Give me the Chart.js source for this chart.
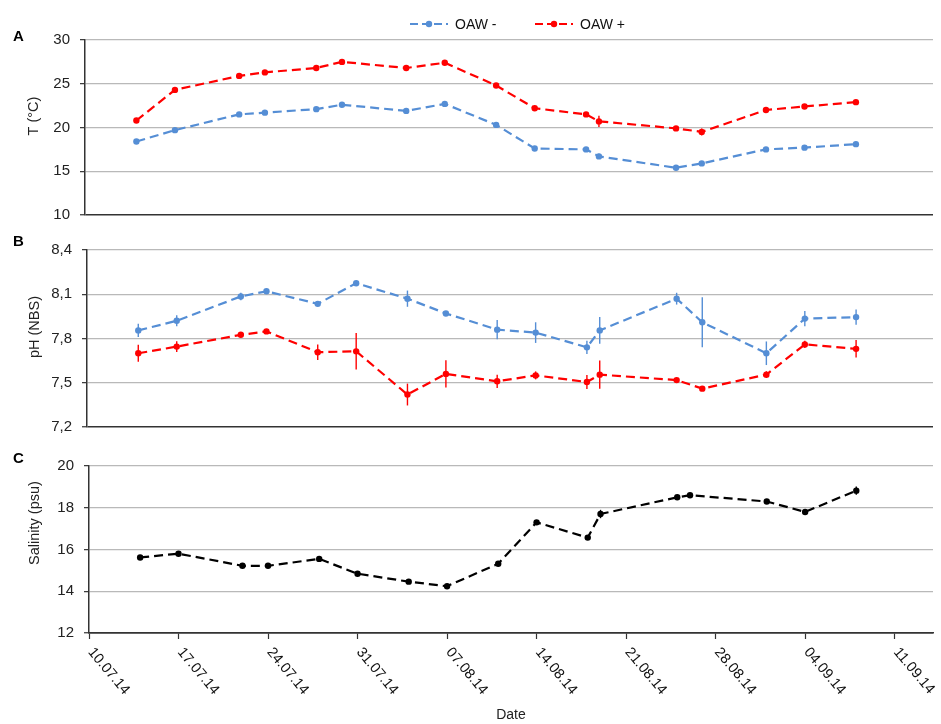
<!DOCTYPE html>
<html><head><meta charset="utf-8">
<script src="https://cdn.jsdelivr.net/npm/chart.js@4.4.1/dist/chart.umd.min.js"></script>
<style>
html,body{margin:0;padding:0;background:#fff;}
#wrap{position:relative;width:941px;height:724px;overflow:hidden;}
canvas{position:absolute;left:0;}
</style></head><body>
<div id="wrap">
<canvas id="cA" width="941" height="234" style="top:0px"></canvas>
<canvas id="cB" width="941" height="221" style="top:225px"></canvas>
<canvas id="cC" width="941" height="284" style="top:440px"></canvas>
</div>
<script>
// ---------- data ----------
const seriesNames = ['OAW -', 'OAW +'];
const xTickLabels = ['10.07.14','17.07.14','24.07.14','31.07.14','07.08.14','14.08.14','21.08.14','28.08.14','04.09.14','11.09.14'];

const tempDates = ['14.07.14','17.07.14','22.07.14','24.07.14','28.07.14','30.07.14','04.08.14','07.08.14','11.08.14','14.08.14','18.08.14','19.08.14','25.08.14','27.08.14','01.09.14','04.09.14','08.09.14'];
const tempMinus = [18.4, 19.7, 21.5, 21.7, 22.1, 22.6, 21.9, 22.7, 20.3, 17.6, 17.5, 16.7, 15.4, 15.9, 17.5, 17.7, 18.1];
const tempPlus  = [20.8, 24.3, 25.9, 26.3, 26.8, 27.5, 26.8, 27.4, 24.8, 22.2, 21.5, 20.7, 19.9, 19.5, 22.0, 22.4, 22.9];
const tempErrMinus = [0.15,0.15,0.15,0.15,0.15,0.2,0.15,0.15,0.2,0.15,0.15,0.3,0.15,0.2,0.15,0.15,0.15];
const tempErrPlus  = [0.2,0.2,0.15,0.15,0.15,0.15,0.15,0.2,0.2,0.15,0.2,0.65,0.15,0.4,0.2,0.15,0.2];
const tempTickLabels = ['10','15','20','25','30'];

const phDates = ['14.07.14','17.07.14','22.07.14','24.07.14','28.07.14','31.07.14','04.08.14','07.08.14','11.08.14','14.08.14','18.08.14','19.08.14','25.08.14','27.08.14','01.09.14','04.09.14','08.09.14'];
const phMinus = [7.855, 7.92, 8.085, 8.12, 8.035, 8.175, 8.07, 7.97, 7.86, 7.84, 7.74, 7.855, 8.07, 7.91, 7.70, 7.935, 7.945];
const phPlus  = [7.70, 7.745, 7.825, 7.848, 7.707, 7.713, 7.42, 7.56, 7.51, 7.55, 7.505, 7.555, 7.518, 7.46, 7.555, 7.76, 7.73];
const phErrMinus = [0.045,0.037,0.025,0.014,0.014,0.015,0.055,0.01,0.065,0.07,0.045,0.09,0.04,0.17,0.08,0.052,0.052];
const phErrPlus  = [0.057,0.036,0.01,0.01,0.052,0.124,0.074,0.093,0.045,0.027,0.048,0.096,0.01,0.01,0.023,0.025,0.059];
const phTickLabels = ['7,2','7,5','7,8','8,1','8,4'];

const salDates = ['14.07.14','17.07.14','22.07.14','24.07.14','28.07.14','31.07.14','04.08.14','07.08.14','11.08.14','14.08.14','18.08.14','19.08.14','25.08.14','26.08.14','01.09.14','04.09.14','08.09.14'];
const salinity = [15.62, 15.8, 15.22, 15.22, 15.55, 14.84, 14.46, 14.24, 15.32, 17.3, 16.57, 17.7, 18.5, 18.6, 18.3, 17.8, 18.82];
const salErr   = [0.05,0.05,0.05,0.05,0.05,0.05,0.05,0.05,0.05,0.05,0.05,0.2,0.08,0.05,0.05,0.05,0.2];
const salTickLabels = ['12','14','16','18','20'];

// ---------- helpers ----------
const FONT = "'Liberation Sans', Arial, Helvetica, sans-serif";
const BLUE = '#558ED5', RED = '#FF0000', BLACK = '#000000';
const DASH = [9, 5];
function dayOffset(s) {
  const [d, m, y] = s.split('.').map(Number);
  const [d0, m0, y0] = xTickLabels[0].split('.').map(Number);
  return (Date.UTC(2000 + y, m - 1, d) - Date.UTC(2000 + y0, m0 - 1, d0)) / 86400000;
}
function lineDs(label, dates, vals, errs, color) {
  return {
    label, errors: errs,
    data: dates.map((d, i) => ({ x: dayOffset(d), y: vals[i] })),
    borderColor: color, backgroundColor: color, borderWidth: 2.2, borderDash: DASH,
    pointRadius: 3.2, pointBorderWidth: 0, pointBackgroundColor: color,
    tension: 0, fill: false
  };
}

const errorBars = {
  id: 'errorBars',
  afterDatasetsDraw(chart) {
    const { ctx } = chart, xs = chart.scales.x, ys = chart.scales.y;
    chart.data.datasets.forEach(ds => {
      if (!ds.errors) return;
      ctx.save();
      ctx.strokeStyle = ds.borderColor; ctx.lineWidth = 1.4;
      ds.data.forEach((p, j) => {
        const e = ds.errors[j], px = xs.getPixelForValue(p.x);
        ctx.beginPath();
        ctx.moveTo(px, ys.getPixelForValue(p.y - e));
        ctx.lineTo(px, ys.getPixelForValue(p.y + e));
        ctx.stroke();
      });
      ctx.restore();
    });
  }
};

function decoPlugin(o) {
  return {
    id: 'deco',
    afterDraw(chart) {
      const ctx = chart.ctx;
      ctx.save();
      ctx.fillStyle = '#000';
      ctx.font = `bold 15px ${FONT}`;
      ctx.textBaseline = 'middle'; ctx.textAlign = 'left';
      ctx.fillText(o.letter, 13, o.letterY);
      // axis title
      ctx.save();
      ctx.translate(o.titleX, o.titleY);
      ctx.rotate(-Math.PI / 2);
      ctx.font = `14.5px ${FONT}`; ctx.fillStyle = '#222';
      ctx.textAlign = 'center'; ctx.textBaseline = 'middle';
      ctx.fillText(o.title, 0, 0);
      ctx.restore();
      // legend
      if (o.legend) {
        chart.data.datasets.forEach((ds, i) => {
          const lx = o.legendX[i], ly = o.legendY;
          ctx.save();
          ctx.strokeStyle = ds.borderColor; ctx.lineWidth = 2.2; ctx.setLineDash([8, 4]);
          ctx.beginPath(); ctx.moveTo(lx, ly); ctx.lineTo(lx + 38, ly); ctx.stroke();
          ctx.setLineDash([]);
          ctx.fillStyle = ds.borderColor;
          ctx.beginPath(); ctx.arc(lx + 19, ly, 3.2, 0, Math.PI * 2); ctx.fill();
          ctx.fillStyle = '#111'; ctx.font = `14px ${FONT}`;
          ctx.textAlign = 'left'; ctx.textBaseline = 'middle';
          ctx.fillText(ds.label, lx + 45, ly + 1);
          ctx.restore();
        });
      }
      // rotated x tick labels
      if (o.xLabels) {
        const xs = chart.scales.x;
        ctx.font = `14.5px ${FONT}`; ctx.fillStyle = '#111';
        xs.ticks.forEach((t, i) => {
          const px = xs.getPixelForValue(t.value);
          ctx.save();
          ctx.translate(px + 7, xs.top + 12);
          ctx.rotate(50 * Math.PI / 180);
          ctx.textAlign = 'left'; ctx.textBaseline = 'top';
          ctx.fillText(xTickLabels[i], 0, 0);
          ctx.restore();
        });
      }
      ctx.restore();
    }
  };
}

function options(p) {
  return {
    responsive: false, animation: false, devicePixelRatio: 1,
    layout: { padding: { top: p.padTop, right: 8, bottom: p.padBottom, left: 0 } },
    plugins: { legend: { display: false }, tooltip: { enabled: false } },
    scales: {
      x: {
        type: 'linear', min: 0, max: 66, display: p.showX,
        ticks: { stepSize: 7, display: false, includeBounds: false },
        grid: { drawOnChartArea: false, drawTicks: true, tickLength: 6, tickColor: '#333', tickWidth: 1.2 },
        border: { color: '#333', width: 1.5 },
        title: { display: p.showX, text: 'Date', font: { family: FONT, size: 14 }, color: '#222', padding: 0 },
        afterFit: s => { s.height = p.showX ? 91 : 0; }
      },
      y: {
        type: 'linear', min: p.yMin, max: p.yMax,
        ticks: { stepSize: p.yStep, includeBounds: false, autoSkip: false, callback: (v, i) => p.yLabels[i],
                 font: { family: FONT, size: 15 }, color: '#222', padding: 10 },
        grid: { color: c => c.index === 0 ? '#333' : '#b9b9b9', lineWidth: c => c.index === 0 ? 1.5 : 1.3,
                tickLength: 5, tickColor: '#333', tickWidth: 1.2 },
        border: { color: '#333', width: 1.5 },
        afterFit: s => { s.width = p.yWidth; }
      }
    }
  };
}

new Chart(document.getElementById('cA'), {
  type: 'line',
  data: { datasets: [
    lineDs(seriesNames[0], tempDates, tempMinus, tempErrMinus, BLUE),
    lineDs(seriesNames[1], tempDates, tempPlus, tempErrPlus, RED)
  ] },
  options: options({ padTop: 40, padBottom: 11, showX: false, yMin: 10, yMax: 30, yStep: 5, yLabels: tempTickLabels, yWidth: 85 }),
  plugins: [errorBars, decoPlugin({ letter: 'A', letterY: 37, title: 'T (°C)', titleX: 34, titleY: 116, legend: true, legendX: [410, 535], legendY: 24 })]
});

new Chart(document.getElementById('cB'), {
  type: 'line',
  data: { datasets: [
    lineDs(seriesNames[0], phDates, phMinus, phErrMinus, BLUE),
    lineDs(seriesNames[1], phDates, phPlus, phErrPlus, RED)
  ] },
  options: options({ padTop: 25, padBottom: 14, showX: false, yMin: 7.2, yMax: 8.4, yStep: 0.3, yLabels: phTickLabels, yWidth: 87 }),
  plugins: [errorBars, decoPlugin({ letter: 'B', letterY: 17, title: 'pH (NBS)', titleX: 35, titleY: 102 })]
});

new Chart(document.getElementById('cC'), {
  type: 'line',
  data: { datasets: [
    lineDs('Salinity', salDates, salinity, salErr, BLACK)
  ] },
  options: options({ padTop: 26, padBottom: 0, showX: true, yMin: 12, yMax: 20, yStep: 2, yLabels: salTickLabels, yWidth: 89 }),
  plugins: [errorBars, decoPlugin({ letter: 'C', letterY: 19, title: 'Salinity (psu)', titleX: 35, titleY: 83, xLabels: true })]
});
</script>
</body></html>
